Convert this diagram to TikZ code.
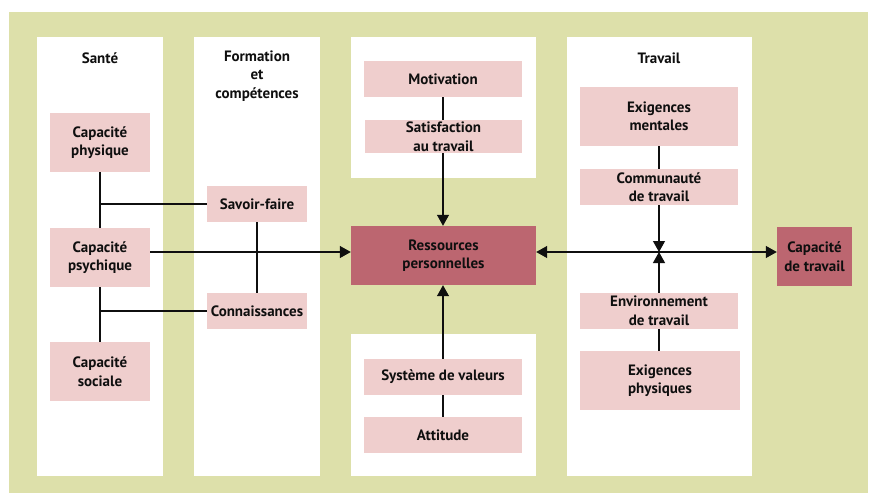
\documentclass[tikz,border=0pt]{standalone}
\usepackage{fontspec}
\setmainfont{PT Sans}
\usetikzlibrary{arrows.meta}
\definecolor{bggreen}{RGB}{221,224,170}
\definecolor{pinkbox}{RGB}{239,206,205}
\definecolor{darkbox}{RGB}{188,102,112}
\definecolor{txt}{RGB}{15,15,15}
\begin{document}
\begin{tikzpicture}[x=1pt,y=-1pt,
  lbl/.style={font=\bfseries\fontsize{15}{18.5}\selectfont, text=txt, align=center, inner sep=0pt},
  col/.style={fill=white, draw=none, inner sep=0pt},
  box/.style={lbl, fill=pinkbox},
  keybox/.style={lbl, fill=darkbox},
  conn/.style={draw=txt, line width=1.2pt},
  arr/.style={conn, -{Triangle[length=11pt,width=12pt]}},
  darr/.style={conn, {Triangle[length=11pt,width=12pt]}-{Triangle[length=11pt,width=12pt]}}]
\useasboundingbox (0,0) rectangle (870,493);
\fill[bggreen] (9,12) rectangle (868,493);
% columns
\node[col, minimum width=126pt, minimum height=439pt] (colS) at (100,256.5) {};
\node[col, minimum width=126pt, minimum height=439pt] (colF) at (257,256.5) {};
\node[col, minimum width=185pt, minimum height=141pt] (colCT) at (443.5,107.5) {};
\node[col, minimum width=185pt, minimum height=142pt] (colCB) at (443.5,405) {};
\node[col, minimum width=185pt, minimum height=439pt] (colT) at (659.5,256.5) {};
% titles
\node[lbl] (tS) at (100,58) {Santé};
\node[lbl] (tF) at (257,76) {Formation\\et\\compétences};
\node[lbl] (tT) at (659,58) {Travail};
% boxes
\node[box, minimum width=100pt, minimum height=59pt] (cphys) at (100,142.5) {Capacité\\physique};
\node[box, minimum width=100pt, minimum height=59pt] (cpsy) at (100,257.5) {Capacité\\psychique};
\node[box, minimum width=100pt, minimum height=59pt] (csoc) at (100,371.5) {Capacité\\sociale};
\node[box, minimum width=100pt, minimum height=36pt] (savoir) at (257,204) {Savoir-faire};
\node[box, minimum width=100pt, minimum height=36pt] (connais) at (257,311) {Connaissances};
\node[box, minimum width=158pt, minimum height=36pt] (motiv) at (443,79) {Motivation};
\node[box, minimum width=157pt, minimum height=33pt] (satis) at (443.5,136.5) {Satisfaction\\au travail};
\node[keybox, minimum width=185pt, minimum height=59pt] (res) at (443.5,255.5) {Ressources\\personnelles};
\node[box, minimum width=158pt, minimum height=36pt] (sysval) at (443,377) {Système de valeurs};
\node[box, minimum width=158pt, minimum height=36pt] (attit) at (443,435) {Attitude};
\node[box, minimum width=158pt, minimum height=59pt] (exment) at (659,116.5) {Exigences\\mentales};
\node[box, minimum width=158pt, minimum height=36pt] (comm) at (659,187) {Communauté\\de travail};
\node[box, minimum width=158pt, minimum height=36pt] (env) at (659,311) {Environnement\\de travail};
\node[box, minimum width=160pt, minimum height=59pt] (exphys) at (660,380.5) {Exigences\\physiques};
\node[keybox, minimum width=75pt, minimum height=59pt] (cdt) at (814.5,256.5) {Capacité\\de travail};
\coordinate (hl) at (0,252);
% Santé links
\draw[conn] (cphys.south) -- (cpsy.north);
\draw[conn] (cpsy.south) -- (csoc.north);
\draw[conn] (savoir.west) -- (savoir.west -| cphys.south);
\draw[conn] (connais.west) -- (connais.west -| cpsy.south);
\draw[conn] (savoir.south) -- (connais.north);
\draw[arr] (cpsy.east |- hl) -- (res.west |- hl);
% centre
\draw[conn] (motiv.south) -- (satis.north -| motiv.south);
\draw[arr] (satis.south -| motiv.south) -- (res.north -| motiv.south);
\draw[arr] (sysval.north) -- (res.south -| sysval.north);
\draw[conn] (sysval.south) -- (attit.north);
% travail
\draw[darr] (res.east |- hl) -- (cdt.west |- hl);
\draw[conn] (exment.south) -- (comm.north);
\draw[arr] (comm.south) -- (comm.south |- hl);
\draw[arr] (env.north) -- (env.north |- hl);
\draw[conn] (env.south) -- (exphys.north -| env.south);
\end{tikzpicture}
\end{document}
